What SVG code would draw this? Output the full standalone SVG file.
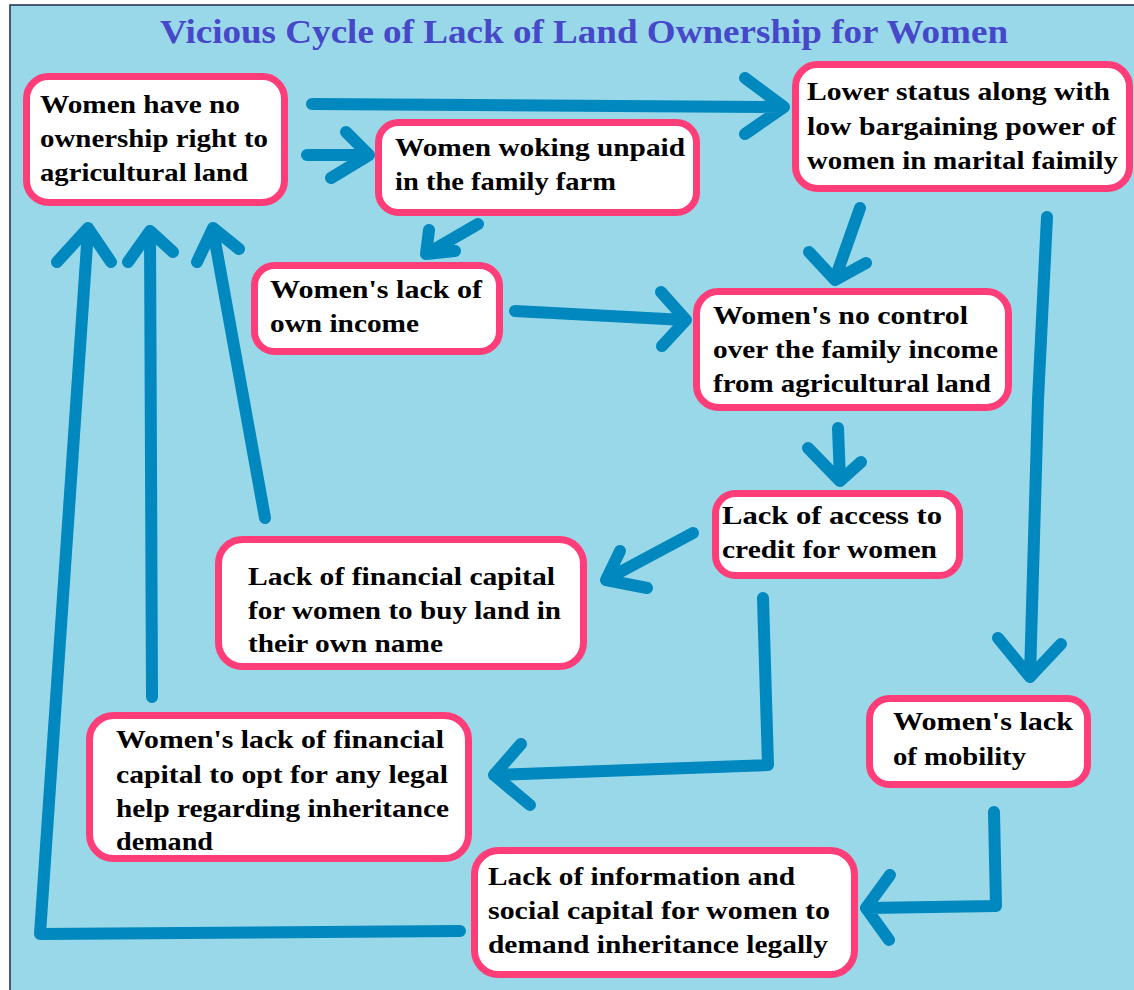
<svg xmlns="http://www.w3.org/2000/svg" width="1134" height="990" viewBox="0 0 1134 990">
<style>
.box{fill:#ffffff;stroke:#ff3d78;stroke-width:7}
.t{font-family:"Liberation Serif","Times New Roman",serif;font-weight:bold;font-size:26px;fill:#000}
.title{font-family:"Liberation Serif","Times New Roman",serif;font-weight:bold;font-size:33px;fill:#4747c9}
.c{fill:none;stroke:#0088bf;stroke-width:12;stroke-linecap:round;stroke-linejoin:round}
</style>
<rect x="0" y="0" width="1134" height="990" fill="#ffffff"/>
<rect x="10" y="5" width="1130" height="990" fill="#99d8e8" stroke="#1e2a48" stroke-width="1.5"/>
<text class="title" x="160" y="43" textLength="848" lengthAdjust="spacingAndGlyphs">Vicious Cycle of Lack of Land Ownership for Women</text>

<g id="connectors">
<path class="c" d="M312,104 L782,107 M745,78 L784,107 L745,134"/>
<path class="c" d="M307,155 L368,155 M346,132 L369,155 L331,178"/>
<path class="c" d="M478,224 L428,253 M429,230 L426,254 L455,251"/>
<path class="c" d="M860,208 L835,279 M809,252 L835,280 L866,263"/>
<path class="c" d="M1047,217 L1038,400 L1030,676 M998,638 L1030,677 L1061,644"/>
<path class="c" d="M515,311 L685,320 M661,292 L686,320 L662,346"/>
<path class="c" d="M838,428 L840,480 M808,448 L840,481 L861,462"/>
<path class="c" d="M693,533 L607,579 M620,551 L606,580 L647,588"/>
<path class="c" d="M265,518 L213,230 M197,262 L213,228 L239,249"/>
<path class="c" d="M152,697 L150,232 M128,262 L150,231 L173,252"/>
<path class="c" d="M460,931 L40,934 L88,230 M57,262 L88,228 L111,262"/>
<path class="c" d="M763,598 L768,765 L494,775 M521,744 L494,775 L530,805"/>
<path class="c" d="M994,812 L996,906 L868,908 M890,875 L866,908 L889,940"/>
</g>

<g id="n1">
<rect class="box" x="26.5" y="76.5" width="258" height="126" rx="22"/>
<text class="t" x="40" y="113" textLength="200" lengthAdjust="spacingAndGlyphs">Women have no</text>
<text class="t" x="40" y="147" textLength="228" lengthAdjust="spacingAndGlyphs">ownership right to</text>
<text class="t" x="40" y="181" textLength="208" lengthAdjust="spacingAndGlyphs">agricultural land</text>
</g>
<g id="n2">
<rect class="box" x="378.5" y="122.5" width="318" height="90" rx="20"/>
<text class="t" x="395" y="156" textLength="290" lengthAdjust="spacingAndGlyphs">Women woking unpaid</text>
<text class="t" x="395" y="190" textLength="221" lengthAdjust="spacingAndGlyphs">in the family farm</text>
</g>
<g id="n3">
<rect class="box" x="795.5" y="64.5" width="334" height="124" rx="22"/>
<text class="t" x="807" y="100" textLength="303" lengthAdjust="spacingAndGlyphs">Lower status along with</text>
<text class="t" x="807" y="135" textLength="309" lengthAdjust="spacingAndGlyphs">low bargaining power of</text>
<text class="t" x="807" y="169" textLength="311" lengthAdjust="spacingAndGlyphs">women in marital faimily</text>
</g>
<g id="n4">
<rect class="box" x="254.5" y="265.5" width="245" height="86" rx="20"/>
<text class="t" x="270" y="298" textLength="212" lengthAdjust="spacingAndGlyphs">Women's lack of</text>
<text class="t" x="270" y="332" textLength="149" lengthAdjust="spacingAndGlyphs">own income</text>
</g>
<g id="n5">
<rect class="box" x="696.5" y="291.5" width="312" height="116" rx="22"/>
<text class="t" x="713" y="324" textLength="255" lengthAdjust="spacingAndGlyphs">Women's no control</text>
<text class="t" x="713" y="358" textLength="285" lengthAdjust="spacingAndGlyphs">over the family income</text>
<text class="t" x="713" y="392" textLength="278" lengthAdjust="spacingAndGlyphs">from agricultural land</text>
</g>
<g id="n6">
<rect class="box" x="715.5" y="493.5" width="244" height="82" rx="20"/>
<text class="t" x="722" y="524" textLength="220" lengthAdjust="spacingAndGlyphs">Lack of access to</text>
<text class="t" x="722" y="558" textLength="215" lengthAdjust="spacingAndGlyphs">credit for women</text>
</g>
<g id="n7">
<rect class="box" x="218.5" y="539.5" width="365" height="127" rx="24"/>
<text class="t" x="248" y="585" textLength="307" lengthAdjust="spacingAndGlyphs">Lack of financial capital</text>
<text class="t" x="248" y="619" textLength="313" lengthAdjust="spacingAndGlyphs">for women to buy land in</text>
<text class="t" x="248" y="652" textLength="195" lengthAdjust="spacingAndGlyphs">their own name</text>
</g>
<g id="n8">
<rect class="box" x="89.5" y="715.5" width="379" height="143" rx="24"/>
<text class="t" x="116" y="748" textLength="328" lengthAdjust="spacingAndGlyphs">Women's lack of financial</text>
<text class="t" x="116" y="783" textLength="332" lengthAdjust="spacingAndGlyphs">capital to opt for any legal</text>
<text class="t" x="116" y="817" textLength="333" lengthAdjust="spacingAndGlyphs">help regarding inheritance</text>
<text class="t" x="116" y="850" textLength="97" lengthAdjust="spacingAndGlyphs">demand</text>
</g>
<g id="n9">
<rect class="box" x="869.5" y="698.5" width="218" height="86" rx="20"/>
<text class="t" x="893" y="730" textLength="180" lengthAdjust="spacingAndGlyphs">Women's lack</text>
<text class="t" x="893" y="765" textLength="133" lengthAdjust="spacingAndGlyphs">of mobility</text>
</g>
<g id="n10">
<rect class="box" x="474.5" y="850.5" width="380" height="124" rx="24"/>
<text class="t" x="488" y="885" textLength="307" lengthAdjust="spacingAndGlyphs">Lack of information and</text>
<text class="t" x="488" y="919" textLength="342" lengthAdjust="spacingAndGlyphs">social capital for women to</text>
<text class="t" x="488" y="953" textLength="340" lengthAdjust="spacingAndGlyphs">demand inheritance legally</text>
</g>
</svg>
